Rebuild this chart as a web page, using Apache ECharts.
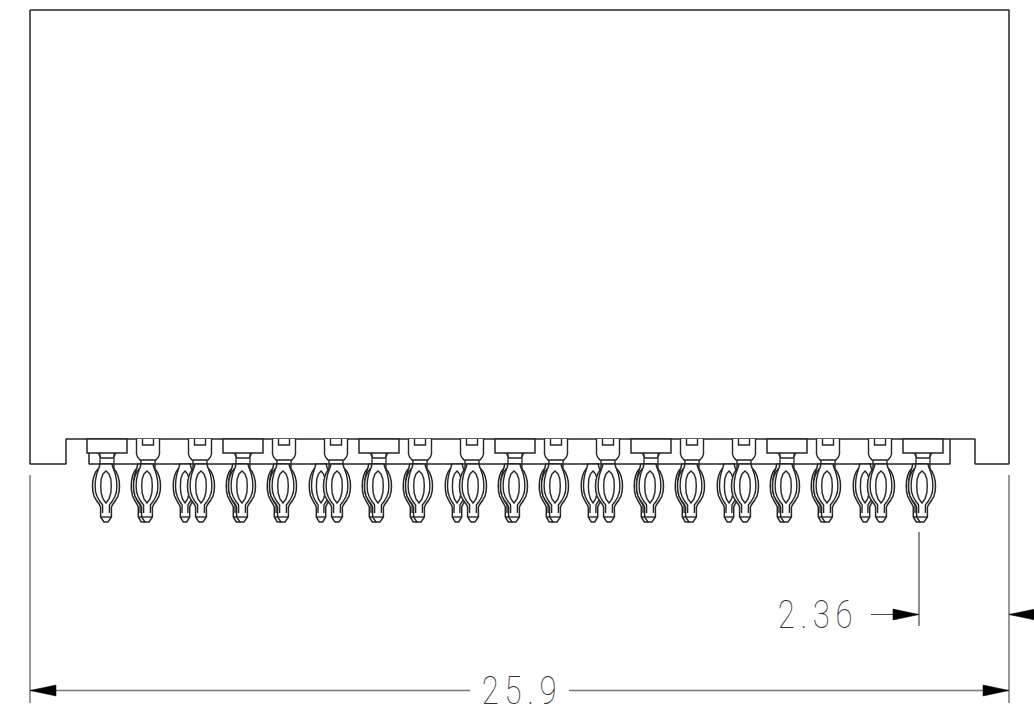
<!DOCTYPE html>
<html><head><meta charset="utf-8">
<style>html,body{margin:0;padding:0;background:#fff}#c{width:1034px;height:716px}text{letter-spacing:7px}</style>
<script src="https://cdn.jsdelivr.net/npm/echarts@6/dist/echarts.min.js"></script>
</head><body><div id="c"></div>
<script>
// Drawing units equal one picture pixel along each axis; 25.9 mm spans 30 to 1009.
const bodyOutline=[[30,10],[1009,10],[1009,464],[975,464],[975,439],[66,439],[66,464],[30,464],[30,10]];
const floorLine=[[89,453],[89,464],[950,464],[950,439]];
const extLeft=[[30,475],[30,703]];
const extRight=[[1009,475],[1009,703]];
const extPin=[[919,532],[919,626]];
const dimShortA=[[871,614.5],[919,614.5]];
const dimShortB=[[1009,614.5],[1034,614.5]];
const dimLongA=[[30,690.5],[470,690.5]];
const dimLongB=[[569,690.5],[1009,690.5]];
const boxX=[107,243,379,515,651,787,923];
const tabX=[148,200,284,336,420,472,556,608,692,744,828,880];
const mainPinX=[106,147,201,242,283,337,378,419,473,514,555,609,650,691,745,786,827,881,922];
const rearPinX=[143,185,238,279,321,374,415,457,510,551,593,646,687,729,782,823,865,918];
const arrowTips=[[919,614.5,-1],[1009,614.5,1],[30,690.5,1],[1009,690.5,-1]];
const dimLabels=["2.36","25.9"];
const dimLabelPos=[[818,615],[522,691]];

const pinOuter=[[6,464],[7,468],[10,471.5],[12,476],[13.2,481],[13.5,486],[13.2,491],[12,496],[9.5,500.5],[7,504],[5.4,507],[5.4,517],[2,522]];
const pinInner=[[7.5,469],[9.3,474],[10.5,480],[10.9,486],[10.4,492],[8.7,497],[6,501.5],[3.4,505],[3.4,513]];
const pinSlot=[[0,471],[3,474],[4.8,479],[5.3,486],[4.8,493],[3,499],[0,503]];
const lineColor='#262626', dimColor='#777';
const mirror=h=>h.concat(h.slice().reverse().map(p=>[-p[0],p[1]]));

function pinRenderer(sx){
  return function(p,api){
    const x=api.value(0);
    const pts=a=>a.map(q=>api.coord([x+q[0]*sx,q[1]]));
    const st={stroke:lineColor,lineWidth:1.4,fill:'none'};
    const side=s=>pts(pinInner.map(q=>[q[0]*s,q[1]]));
    return {type:'group',children:[
      {type:'polygon',shape:{points:pts(mirror(pinOuter))},style:{stroke:lineColor,lineWidth:1.5,fill:'#fff'}},
      {type:'polyline',shape:{points:side(1)},style:st},
      {type:'polyline',shape:{points:side(-1)},style:st},
      {type:'polygon',shape:{points:pts(mirror(pinSlot))},style:{stroke:lineColor,lineWidth:1.4,fill:'#fff'}},
      {type:'polyline',shape:{points:pts([[-5.4,517],[5.4,517]])},style:st}
    ]};
  };
}
function renderBox(p,api){
  const x=api.value(0);
  const pts=a=>a.map(q=>api.coord([x+q[0],q[1]]));
  const st={stroke:lineColor,lineWidth:1.3,fill:'none'};
  return {type:'group',children:[
    {type:'polygon',shape:{points:pts([[-20,439],[20,439],[20,453],[-20,453]])},style:{stroke:lineColor,lineWidth:1.5,fill:'#fff'}},
    {type:'polyline',shape:{points:pts([[-9,453],[-6,458],[6,458],[9,453]])},style:st},
    {type:'polyline',shape:{points:pts([[-7,453],[-7,470]])},style:st},
    {type:'polyline',shape:{points:pts([[7,453],[7,470]])},style:st}
  ]};
}
function renderTab(p,api){
  const x=api.value(0);
  const pts=a=>a.map(q=>api.coord([x+q[0],q[1]]));
  const st={stroke:lineColor,lineWidth:1.4,fill:'none'};
  return {type:'group',children:[
    {type:'polyline',shape:{points:pts([[-11.5,439],[-11.5,454],[-10.5,457],[-8,460],[8,460],[10.5,457],[11.5,454],[11.5,439]])},style:{stroke:lineColor,lineWidth:1.4,fill:'#fff'}},
    {type:'polyline',shape:{points:pts([[-5.5,439],[-5.5,445],[5.5,445],[5.5,439]])},style:st},
    {type:'polyline',shape:{points:pts([[-7,460],[-7,470]])},style:st},
    {type:'polyline',shape:{points:pts([[7,460],[7,470]])},style:st}
  ]};
}
function renderArrow(p,api){
  const x=api.value(0),y=api.value(1),d=api.value(2);
  return {type:'polygon',shape:{points:[[0,0],[26,-5.5],[26,5.5]].map(q=>api.coord([x+q[0]*d,y+q[1]]))},style:{fill:'#000',stroke:'#000',lineWidth:0.5}};
}
function renderLabel(p,api){
  const c=api.coord([api.value(0),api.value(1)]);
  return {type:'text',x:c[0],y:c[1],scaleX:0.8,originX:0,originY:0,style:{text:dimLabels[p.dataIndex],fontFamily:'Roboto',fontWeight:100,fontSize:39,fill:'#333',align:'center',verticalAlign:'middle'}};
}
const lineS=(d,color,w)=>({type:'line',data:d,showSymbol:false,symbol:'none',silent:true,clip:false,lineStyle:{color:color,width:w},z:2});
const pinS=(x,r,z)=>({type:'custom',data:x.map(v=>[v]),renderItem:r,encode:{x:0},silent:true,clip:false,z:z});

const chart=echarts.init(document.getElementById('c'),null,{renderer:'svg',width:1034,height:716});
chart.setOption({
  animation:false,backgroundColor:'#fff',
  grid:{left:0,right:0,top:0,bottom:0},
  xAxis:{type:'value',min:0,max:1034,show:false},
  yAxis:{type:'value',min:0,max:716,inverse:true,show:false},
  tooltip:{show:false},
  series:[
    lineS(bodyOutline,lineColor,1.5),
    lineS(floorLine,lineColor,1.5),
    lineS(extLeft,dimColor,1.5),
    lineS(extRight,dimColor,1.5),
    lineS(extPin,'#444',1.2),
    lineS(dimShortA,'#444',1.2),
    lineS(dimShortB,'#444',1.2),
    lineS(dimLongA,dimColor,1.5),
    lineS(dimLongB,dimColor,1.5),
    pinS(rearPinX,pinRenderer(0.87),3),
    pinS(boxX,renderBox,4),
    pinS(tabX,renderTab,4),
    pinS(mainPinX,pinRenderer(1),5),
    {type:'custom',data:arrowTips,renderItem:renderArrow,encode:{x:0,y:1},silent:true,clip:false,z:6},
    {type:'custom',data:dimLabelPos,renderItem:renderLabel,encode:{x:0,y:1},silent:true,clip:false,z:6}
  ]
});
</script></body></html>
